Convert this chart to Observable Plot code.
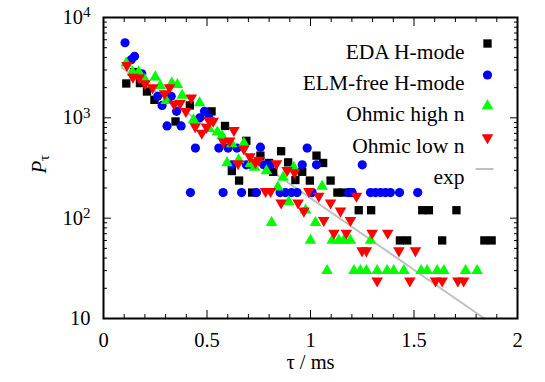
<!DOCTYPE html>
<html><head><meta charset="utf-8">
<script src="https://cdn.jsdelivr.net/npm/d3@7"></script>
<script src="https://cdn.jsdelivr.net/npm/@observablehq/plot@0.6"></script>
<style>body{margin:0;background:#fff}</style>
</head><body><div id="chart"></div>
<script>
// EDA H-mode (black squares)
const edaX = [0.11,0.147,0.176,0.21,0.246,0.348,0.417,0.522,0.587,0.69,0.62,0.655,0.718,0.758,0.8,0.82,0.858,0.892,0.927,0.96,0.997,1.029,1.061,1.097,1.13,1.16,1.195,1.233,1.293,1.432,1.467,1.54,1.572,1.636,1.705,1.84,1.875];
const edaY = [2200,2860,2220,1830,1510,920,1330,1160,830,590,295,237,180,420,355,290,465,360,240,290,237,420,355,237,180,180,180,120,120,60,60,120,120,60,120,60,60];
// ELM-free H-mode (blue circles)
const elmX = [0.104,0.134,0.150,0.185,0.262,0.283,0.327,0.353,0.307,0.375,0.465,0.488,0.509,0.444,0.557,0.602,0.645,0.758,0.984,0.62,0.69,0.715,0.774,0.807,0.96,1.029,1.25,0.42,0.578,0.667,0.739,0.853,0.879,0.908,0.935,1.008,1.185,1.201,1.29,1.314,1.338,1.362,1.386,1.43,1.518];
const elmY = [5600,3800,4100,2750,1640,1330,1640,1160,830,830,1000,1160,1000,500,500,500,500,510,500,340,340,340,340,340,340,340,340,180,180,180,180,180,180,180,180,180,180,180,180,180,180,180,180,180,180];
// Ohmic high n (green up triangles)
const ohX = [0.11,0.14,0.17,0.2,0.25,0.274,0.303,0.33,0.357,0.38,0.435,0.464,0.51,0.55,0.573,0.62,0.597,0.653,0.678,0.71,0.73,0.787,0.842,0.868,0.895,0.919,0.812,0.976,1.024,1.056,1.0,1.105,1.137,1.161,1.193,1.29,1.08,1.21,1.241,1.27,1.322,1.37,1.402,1.451,1.535,1.563,1.612,1.644,1.749,1.805];
const ohY = [3500,2860,2860,2400,2550,2090,1480,2220,2140,1670,955,1410,780,720,660,550,355,380,560,350,320,295,204,255,145,320,90,120,90,207,60,60,60,60,60,60,30,30,30,30,30,30,30,30,30,30,30,30,30,30];
// Ohmic low n (red down triangles)
const olX = [0.113,0.142,0.172,0.2,0.237,0.295,0.319,0.341,0.37,0.398,0.424,0.443,0.475,0.51,0.498,0.53,0.58,0.61,0.63,0.65,0.678,0.707,0.75,0.734,0.836,0.783,0.807,0.858,0.887,0.923,0.94,0.968,0.992,1.04,1.097,1.145,1.222,1.064,1.193,1.113,1.173,1.298,1.373,1.249,1.27,1.427,1.507,1.322,1.48,1.604,1.636,1.712,1.74];
const olY = [3330,2550,2500,2200,2000,1740,2000,1370,1400,1160,1580,820,705,940,810,930,575,590,750,350,490,410,380,360,350,185,185,142,300,284,142,118,185,166,142,118,166,95,95,71,71,71,71,47.4,47.4,47.4,47.4,23.7,23.7,23.7,23.7,23.7,23.7];
// exponential fit line (end points)
const expX = [0.09, 1.84];
const expY = [3150, 10];

const legendLabels = ["EDA H-mode", "ELM-free H-mode", "Ohmic high n", "Ohmic low n", "exp"];
const xMajor = [0, 0.5, 1, 1.5, 2];
const xMinor = [0.1,0.2,0.3,0.4,0.6,0.7,0.8,0.9,1.1,1.2,1.3,1.4,1.6,1.7,1.8,1.9];
const yMajor = [10, 100, 1000, 10000];
const yMinor = [20,30,40,50,60,70,80,90,200,300,400,500,600,700,800,900,2000,3000,4000,5000,6000,7000,8000,9000];
const supers = {1:"¹",2:"²",3:"³",4:"⁴"};

const rows = (xs, ys) => xs.map((x, i) => ({x, y: ys[i]}));
const eda = rows(edaX, edaY), elm = rows(elmX, elmY), oh = rows(ohX, ohY), ol = rows(olX, olY), ex = rows(expX, expY);

const lineSym = {draw(ctx) { ctx.moveTo(-9, 0); ctx.lineTo(9, 0); }};
const blank = () => "";
const legY = [26, 57.5, 88.5, 120, 151.5];
const legSym = [
  {symbol: "square", fill: "black", r: 4.7},
  {symbol: "circle", fill: "#0000ff", r: 4.6},
  {symbol: "triangle", fill: "#00ff00", r: 4.3},
  {symbol: "triangle", rotate: 180, fill: "#ff0000", r: 4.3},
  {symbol: lineSym, fill: "none", stroke: "#c0c0c0", strokeWidth: 2}
];
const legendMarks = legendLabels.flatMap((lab, i) => [
  Plot.text([lab], {frameAnchor: "top-right", dx: -53, dy: legY[i], textAnchor: "end", fontSize: 21.5}),
  Plot.dot([lab], {frameAnchor: "top-right", dx: i === 4 ? -33 : -30, dy: legY[i], ...legSym[i]})
]);

const plot = Plot.plot({
  width: 545, height: 382,
  marginLeft: 103, marginRight: 28, marginTop: 17, marginBottom: 64,
  style: {fontFamily: "Liberation Serif", fontSize: "20px", color: "black", background: "white"},
  x: {domain: [0, 2]},
  y: {type: "log", domain: [10, 10000]},
  marks: [
    Plot.line(ex, {x: "x", y: "y", stroke: "#c0c0c0", strokeWidth: 2}),
    Plot.dot(eda, {x: "x", y: "y", symbol: "square", fill: "black", r: 4.7}),
    Plot.dot(elm, {x: "x", y: "y", symbol: "circle", fill: "#0000ff", r: 4.6}),
    Plot.dot(oh, {x: "x", y: "y", symbol: "triangle", fill: "#00ff00", r: 4.3}),
    Plot.dot(ol, {x: "x", y: "y", symbol: "triangle", rotate: 180, fill: "#ff0000", r: 4.3}),
    ...legendMarks,
    // axis labels
    Plot.text(["τ / ms"], {frameAnchor: "bottom", dy: 50, fontSize: 20.5}),
    Plot.text(["P"], {frameAnchor: "left", dx: -64, dy: 5.5, rotate: -90, fontStyle: "italic", fontSize: 21}),
    Plot.text(["τ"], {frameAnchor: "left", dx: -59, dy: -7, rotate: -90, fontSize: 15}),
    // axes
    Plot.axisX({ticks: xMajor, anchor: "bottom", tickSize: 0, tickPadding: 14, tickFormat: d => String(d), label: null, fontSize: 20.5}),
    Plot.axisX({ticks: xMajor, anchor: "bottom", tickSize: -8, tickFormat: blank, label: null}),
    Plot.axisX({ticks: xMinor, anchor: "bottom", tickSize: -4, tickFormat: blank, label: null}),
    Plot.axisX({ticks: xMajor, anchor: "top", tickSize: -8, tickFormat: blank, label: null}),
    Plot.axisX({ticks: xMinor, anchor: "top", tickSize: -4, tickFormat: blank, label: null}),
    Plot.axisY({ticks: yMajor, anchor: "left", tickSize: 0, tickPadding: 13, fontSize: 20.5, tickFormat: d => d === 10 ? "10" : "10" + supers[Math.round(Math.log10(d))], label: null}),
    Plot.axisY({ticks: yMajor, anchor: "left", tickSize: -8, tickFormat: blank, label: null}),
    Plot.axisY({ticks: yMinor, anchor: "left", tickSize: -4, tickFormat: blank, label: null}),
    Plot.axisY({ticks: yMajor, anchor: "right", tickSize: -8, tickFormat: blank, label: null}),
    Plot.axisY({ticks: yMinor, anchor: "right", tickSize: -4, tickFormat: blank, label: null}),
    Plot.frame({stroke: "black", strokeWidth: 2})
  ]
});
document.getElementById("chart").appendChild(plot);

// render superscripts as raised tspans
const inv = Object.fromEntries(Object.entries(supers).map(([k, v]) => [v, k]));
d3.select(plot).selectAll("text").each(function() {
  const t = this.textContent;
  const m = /^10([¹²³⁴])$/.exec(t);
  if (m) {
    const el = d3.select(this);
    el.text("10");
    el.append("tspan").attr("dy", "-0.45em").attr("font-size", "15px").text(inv[m[1]]);
  }
});
</script>
</body></html>
